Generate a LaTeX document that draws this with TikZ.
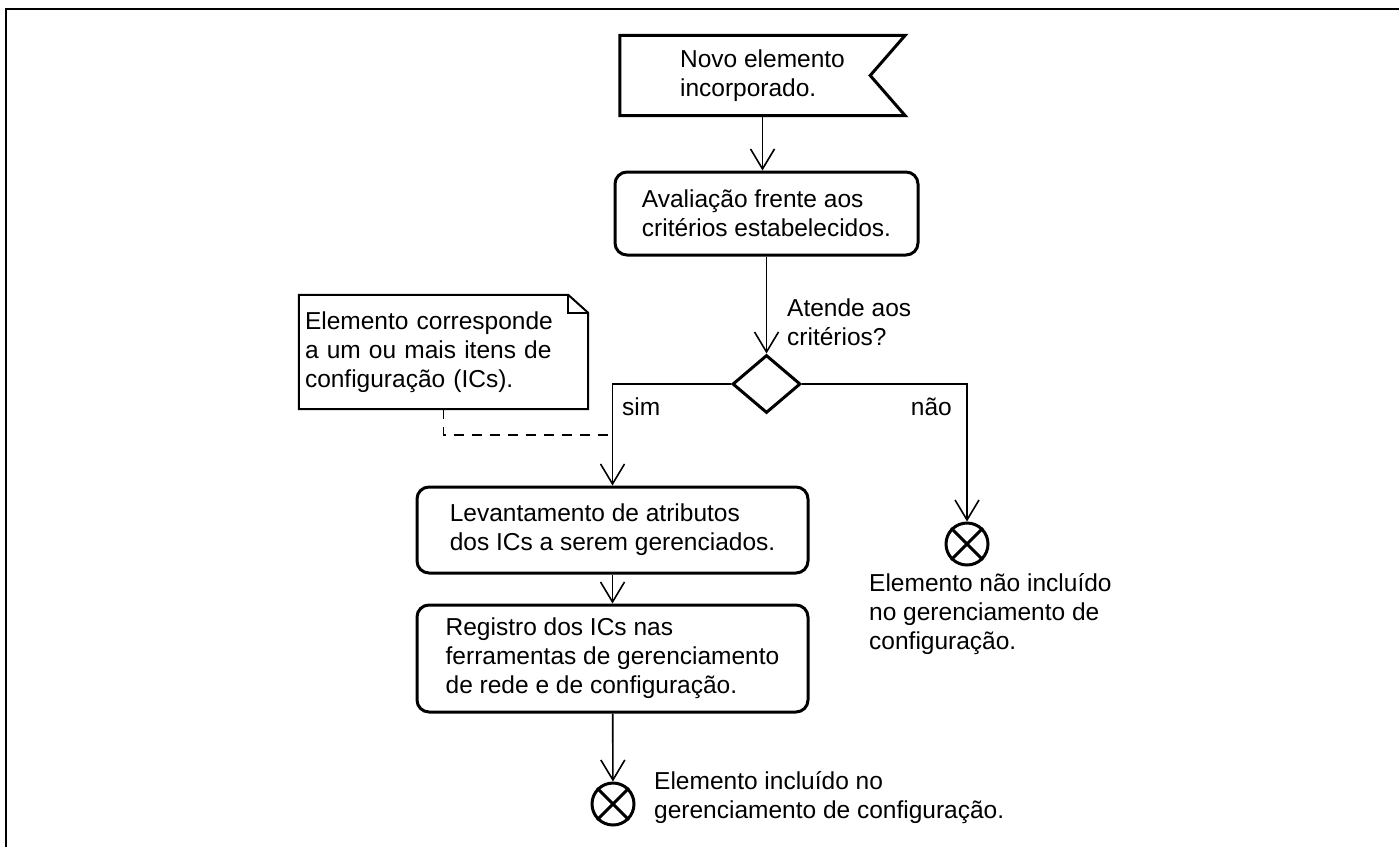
\documentclass[tikz,border=0pt]{standalone}
\usepackage{fontspec}
\setmainfont{Liberation Sans}
\usetikzlibrary{shapes.geometric,arrows.meta}

\begin{document}
\begin{tikzpicture}[x=1pt, y=-1pt,
  every node/.style={font=\fontsize{24.5}{29}\selectfont, align=left},
  sinal/.style={rectangle, minimum width=285pt, minimum height=80pt, inner sep=0pt},
  acao/.style={rectangle, rounded corners=12pt, draw, line width=3pt, inner sep=0pt},
  decisao/.style={diamond, draw, line width=3pt, minimum width=68pt, minimum height=58pt, inner sep=0pt},
  fim/.style={circle, draw, line width=3pt, minimum size=42pt, inner sep=0pt},
  nota/.style={rectangle, minimum width=289pt, minimum height=114pt, text width=277pt, inner sep=6pt},
  rotulo/.style={inner sep=2pt},
  seta/.style={line width=1.6pt, -{Straight Barb[length=20pt, width=24pt]}},
  tracejada/.style={line width=1.6pt, dash pattern=on 10pt off 8pt}
]
\useasboundingbox (0,0) rectangle (1399,847);
\draw[line width=2pt] (6,847) -- (6,9) -- (1399,9);
% Nós do fluxo
\node[sinal] (inicio) at (762.5,75.5) {Novo elemento\\incorporado.};
\draw[line width=3pt] (inicio.north west) -- (inicio.north east) -- ([xshift=-35pt]inicio.east)
  -- (inicio.south east) -- (inicio.south west) -- cycle;
\node[acao, minimum width=303pt, minimum height=83pt] (avaliacao) at (766.5,213.5) {Avaliação frente aos\\critérios estabelecidos.};
\node[decisao] (decisao) at (766.5,384) {};
\node[acao, minimum width=391pt, minimum height=86pt] (levantamento) at (612.5,530) {Levantamento de atributos\\dos ICs a serem gerenciados.};
\node[acao, minimum width=391pt, minimum height=107pt] (registro) at (612.5,658.5) {Registro dos ICs nas\\ferramentas de gerenciamento\\de rede e de configuração.};
\node[fim] (fimsim) at (613,804) {};
\node[fim] (fimnao) at (967,544) {};
\foreach \f in {fimsim,fimnao} \draw[line width=3pt] (\f.north east) -- (\f.south west) (\f.north west) -- (\f.south east);
% Nota
\node[nota] (nota) at (443.5,352) {Elemento corresponde\\a um ou mais itens de\\configuração (ICs).};
\draw[line width=2pt] (nota.south west) -- (nota.north west) -- ([xshift=-20pt]nota.north east)
  -- ([yshift=-18pt]nota.north east) -- (nota.south east) -- cycle;
\draw[line width=2pt] ([xshift=-20pt]nota.north east) -- ([xshift=-20pt,yshift=-18pt]nota.north east) -- ([yshift=-18pt]nota.north east);
% Rótulos
\node[rotulo, anchor=west] (atende) at (785,322) {Atende aos\\critérios?};
\node[rotulo, anchor=west] (sim) at (620,407) {sim};
\node[rotulo, anchor=east] (nao) at (954,407) {não};
\node[rotulo, anchor=north west] (txtnao) at (867,571) {Elemento não incluído\\no gerenciamento de\\configuração.};
\node[rotulo, anchor=west] (txtsim) at (652,798) {Elemento incluído no\\gerenciamento de configuração.};
% Conectores
\draw[seta] (inicio) -- (inicio |- avaliacao.north);
\draw[seta] (avaliacao) -- (decisao);
\draw[seta] (decisao) -| (levantamento);
\draw[seta] (decisao) -| (fimnao);
\draw[seta] (levantamento) -- (registro);
\draw[seta] (registro) -- (fimsim);
\coordinate (juncao) at (612.5,435);
\draw[tracejada] (nota) |- (juncao);
\end{tikzpicture}
\end{document}
